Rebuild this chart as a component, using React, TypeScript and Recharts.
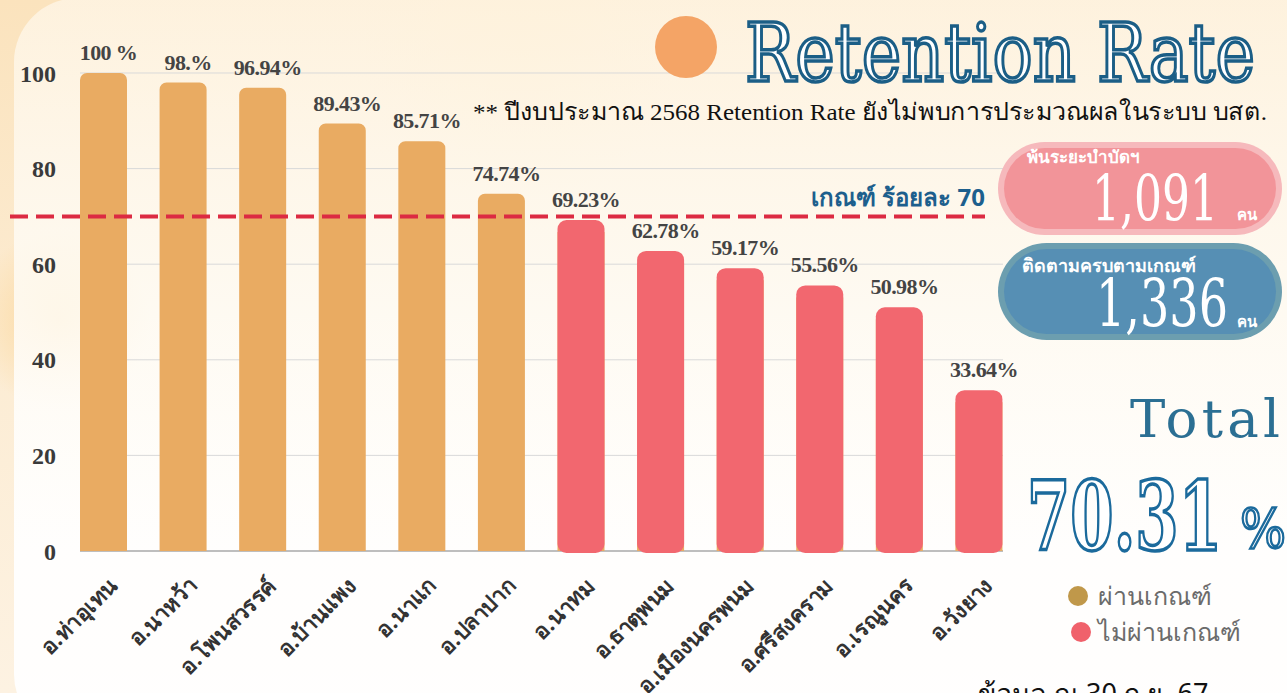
import { BarChart, Bar, XAxis, YAxis, CartesianGrid, ReferenceLine, LabelList, Rectangle } from "recharts";

const districts = [
  "อ.ท่าอุเทน",
  "อ.นาหว้า",
  "อ.โพนสวรรค์",
  "อ.บ้านแพง",
  "อ.นาแก",
  "อ.ปลาปาก",
  "อ.นาทม",
  "อ.ธาตุพนม",
  "อ.เมืองนครพนม",
  "อ.ศรีสงคราม",
  "อ.เรณูนคร",
  "อ.วังยาง",
];
const rates = [100, 98, 96.94, 89.43, 85.71, 74.74, 69.23, 62.78, 59.17, 55.56, 50.98, 33.64];
const rateLabels = ["100 %", "98.%", "96.94%", "89.43%", "85.71%", "74.74%", "69.23%", "62.78%", "59.17%", "55.56%", "50.98%", "33.64%"];
const yTicks = [0, 20, 40, 60, 80, 100];
const TARGET = 70;
const dropoutCount = "1,091";
const followedCount = "1,336";
const totalRate = "70.31";

const PASS = "#E9AB62";
const FAIL = "#F2676F";
const THAI = "'Noto Sans', 'DejaVu Sans', sans-serif";
const SERIF = "'DejaVu Serif', serif";

const data = districts.map((name, i) => ({
  name,
  rate: rates[i],
  label: rateLabels[i],
  pass: rates[i] >= TARGET,
}));

function BarShape(props: any) {
  const { x, y, width, height, payload } = props;
  if (payload.pass) {
    return <Rectangle x={x} y={y} width={width} height={height} radius={[7, 7, 0, 0]} fill={PASS} />;
  }
  return (
    <g>
      <rect x={x} y={y + 12} width={width} height={height - 12} fill={PASS} />
      <Rectangle x={x} y={y} width={width} height={height + 2} radius={9} fill={FAIL} />
    </g>
  );
}

function RateLabel(props: any) {
  const { x, y, width, value } = props;
  return (
    <text
      x={x + width / 2 + 5}
      y={y - 13}
      textAnchor="middle"
      fill="#444"
      fontFamily="'Liberation Serif', serif"
      fontWeight="bold"
      fontSize={22}
      letterSpacing={-0.6}
    >
      {value}
    </text>
  );
}

function DistrictTick(props: any) {
  const { x, y, payload } = props;
  const ax = x + 15;
  const ay = y + 28;
  return (
    <text
      x={ax}
      y={ay}
      transform={`rotate(-45 ${ax} ${ay})`}
      textAnchor="end"
      fill="#333"
      fontFamily={THAI}
      fontWeight="bold"
      fontSize={22}
    >
      {payload.value}
    </text>
  );
}

function GridLine(props: any) {
  const { x1, x2, y1, y2, index } = props;
  const isZero = index === 0;
  return (
    <line
      key={`g-${index}`}
      x1={x1 + 16}
      x2={x2 - 16}
      y1={y1}
      y2={y2}
      stroke={isZero ? "#a9a9a9" : "#d9d9d9"}
      strokeWidth={isZero ? 1.5 : 1}
    />
  );
}

function TargetLine(props: any) {
  const { x1, x2, y1 } = props;
  return (
    <g>
      <line x1={x1 - 54} x2={x2 - 34} y1={y1} y2={y1} stroke="#DC2A42" strokeWidth={4} strokeDasharray="18 8" />
      <text x={x2 - 34} y={y1 - 10} textAnchor="end" fill="#1D5F8D" fontFamily={THAI} fontWeight="bold" fontSize={24}>
        เกณฑ์ ร้อยละ {TARGET}
      </text>
    </g>
  );
}

export default function App() {
  return (
    <div
      style={{
        position: "absolute",
        left: 0,
        top: 0,
        width: 1287,
        height: 693,
        overflow: "hidden",
        background:
          "radial-gradient(circle at 60px 320px, #fbd79b 0, rgba(251,215,155,0) 90px), radial-gradient(circle at 520px 40px, #fde3b8 0, rgba(253,227,184,0) 160px), linear-gradient(180deg, #fbe3bd 0%, #fcecd3 50%, #fdf2e2 100%)",
      }}
    >
      <div
        style={{
          position: "absolute",
          left: 14,
          top: -2,
          width: 1330,
          height: 740,
          borderRadius: 64,
          background: "linear-gradient(180deg, rgba(255,249,238,0.66) 0%, rgba(255,253,248,0.82) 40%, rgba(255,255,255,0.95) 75%)",
        }}
      />
      <div style={{ position: "absolute", left: 0, top: 0 }}>
        <BarChart width={1287} height={693} data={data} margin={{ top: 73, right: 268, bottom: 42, left: 0 }}>
          <CartesianGrid vertical={false} horizontal={GridLine} />
          <XAxis dataKey="name" interval={0} height={100} axisLine={false} tickLine={false} tick={<DistrictTick />} />
          <YAxis
            width={64}
            domain={[0, 100]}
            ticks={yTicks}
            axisLine={false}
            tickLine={false}
            tickMargin={2}
            tick={{ fill: "#3a3a3a", fontSize: 24, fontFamily: "'Liberation Serif', serif", fontWeight: "bold" }}
          />
          <Bar dataKey="rate" barSize={47} shape={BarShape} isAnimationActive={false}>
            <LabelList dataKey="label" content={RateLabel} />
          </Bar>
          <ReferenceLine y={TARGET} shape={TargetLine} />
        </BarChart>
      </div>
      <svg width={1287} height={693} style={{ position: "absolute", left: 0, top: 0, pointerEvents: "none" }}>
        <circle cx={686} cy={47} r={31} fill="#F4A466" />
        <text
          x={745}
          y={81}
          fontFamily={SERIF}
          fontSize={80}
          textLength={510}
          lengthAdjust="spacingAndGlyphs"
          fill="#fff"
          stroke="#1B5E86"
          strokeWidth={3.5}
        >
          Retention Rate
        </text>
        <text
          x={473}
          y={120}
          fontFamily={`'Liberation Serif', ${THAI}`}
          fontSize={24}
          textLength={794}
          lengthAdjust="spacingAndGlyphs"
          fill="#111"
        >
          ** ปีงบประมาณ 2568 Retention Rate ยังไม่พบการประมวณผลในระบบ บสต.
        </text>

        <rect x={998} y={142} width={284} height={93} rx={46.5} fill="#F6B9BC" />
        <rect x={1004} y={148} width={272} height={81} rx={40.5} fill="#F29499" />
        <text x={1027} y={163} fontFamily={THAI} fontWeight="bold" fontSize={17} fill="#fff">
          พ้นระยะบำบัดฯ
        </text>
        <text x={1092} y={221} fontFamily={SERIF} fontSize={64} textLength={126} lengthAdjust="spacingAndGlyphs" fill="#fff">
          {dropoutCount}
        </text>
        <text x={1237} y={220} fontFamily={THAI} fontWeight="bold" fontSize={15} fill="#fff">
          คน
        </text>

        <rect x={998} y={243} width={284} height={97} rx={48.5} fill="#6C9EAF" />
        <rect x={1004} y={249} width={272} height={85} rx={42.5} fill="#568FB4" />
        <text x={1022} y={272} fontFamily={THAI} fontWeight="bold" fontSize={18} fill="#fff">
          ติดตามครบตามเกณฑ์
        </text>
        <text x={1096} y={326} fontFamily={SERIF} fontSize={66} textLength={132} lengthAdjust="spacingAndGlyphs" fill="#fff">
          {followedCount}
        </text>
        <text x={1237} y={327} fontFamily={THAI} fontWeight="bold" fontSize={15} fill="#fff">
          คน
        </text>

        <text x={1130} y={437} fontFamily={SERIF} fontSize={53} textLength={150} lengthAdjust="spacing" fill="#2B6F93">
          Total
        </text>
        <text
          x={1027}
          y={550}
          fontFamily={SERIF}
          fontWeight="bold"
          fontSize={96}
          textLength={195}
          lengthAdjust="spacingAndGlyphs"
          fill="#fff"
          stroke="#1B6A9C"
          strokeWidth={3.5}
        >
          {totalRate}
        </text>
        <text
          x={1240}
          y={548}
          fontFamily={SERIF}
          fontSize={54}
          textLength={46}
          lengthAdjust="spacingAndGlyphs"
          fill="#fff"
          stroke="#1B6A9C"
          strokeWidth={2.5}
        >
          %
        </text>

        <circle cx={1078} cy={596} r={10} fill="#C0984A" />
        <text x={1098} y={605} fontFamily={THAI} fontSize={25} fill="#6b6b6b">
          ผ่านเกณฑ์
        </text>
        <circle cx={1081} cy={632} r={10} fill="#F0616B" />
        <text x={1098} y={641} fontFamily={THAI} fontSize={25} fill="#6b6b6b">
          ไม่ผ่านเกณฑ์
        </text>

        <text x={978} y={703} fontFamily={THAI} fontSize={27} fill="#111">
          ข้อมูล ณ 30 ก.ย. 67
        </text>
      </svg>
    </div>
  );
}
